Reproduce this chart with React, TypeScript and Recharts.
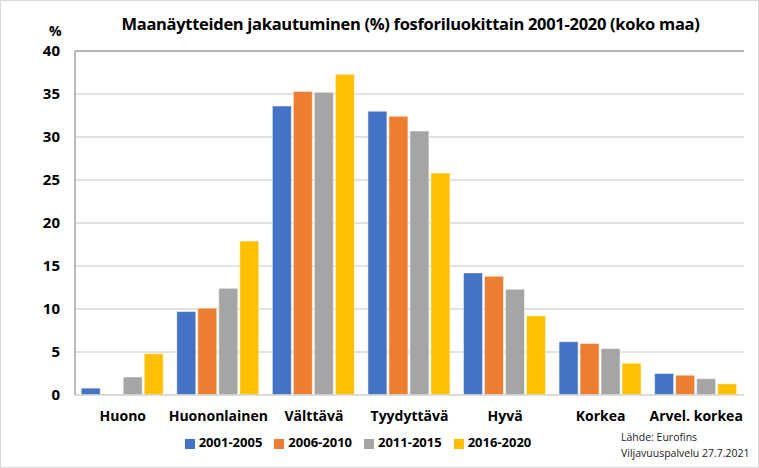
import React from 'react';
import { BarChart, Bar, XAxis, YAxis, CartesianGrid, Legend, ReferenceLine } from 'recharts';

const categories = ['Huono', 'Huononlainen', 'Välttävä', 'Tyydyttävä', 'Hyvä', 'Korkea', 'Arvel. korkea'];
const p2001 = [0.8, 9.7, 33.6, 33.0, 14.2, 6.2, 2.5];
const p2006 = [0, 10.1, 35.3, 32.4, 13.8, 6.0, 2.3];
const p2011 = [2.1, 12.4, 35.2, 30.7, 12.3, 5.4, 1.9];
const p2016 = [4.8, 17.9, 37.3, 25.8, 9.2, 3.7, 1.3];
const yTicks = [0, 5, 10, 15, 20, 25, 30, 35, 40];

const series = [
  { key: 'a', name: '2001-2005', color: '#4472c4', values: p2001 },
  { key: 'b', name: '2006-2010', color: '#ed7d31', values: p2006 },
  { key: 'c', name: '2011-2015', color: '#a5a5a5', values: p2011 },
  { key: 'd', name: '2016-2020', color: '#ffc000', values: p2016 },
];

const data = categories.map((c, i) => {
  const row: any = { name: c };
  series.forEach((s) => (row[s.key] = s.values[i]));
  return row;
});

const font = "'Open Sans', 'Liberation Sans', sans-serif";

const App: React.FC = () => {
  return (
    <div
      style={{
        position: 'absolute',
        left: 0,
        top: 0,
        width: 759,
        height: 468,
        boxSizing: 'border-box',
        border: '1px solid #d9d9d9',
        background: '#fff',
        fontFamily: font,
      }}
    >
      <div style={{ position: 'absolute', left: 30, width: 759, top: 11, textAlign: 'center', fontSize: 16.5, fontWeight: 700, color: '#000', letterSpacing: -0.3 }}>
        Maanäytteiden jakautuminen (%) fosforiluokittain 2001-2020 (koko maa)
      </div>
      <div style={{ position: 'absolute', left: 48, top: 20, fontSize: 14, fontWeight: 700 }}>%</div>
      <div style={{ position: 'absolute', left: 620, top: 428, fontSize: 10.5, lineHeight: '16px', color: '#222' }}>
        Lähde: Eurofins
        <br />
        Viljavuuspalvelu 27.7.2021
      </div>
      <BarChart
        width={757}
        height={466}
        data={data}
        margin={{ top: 50, right: 14, left: 0, bottom: 24 }}
        barCategoryGap="6.5%"
        barGap={2}
      >
        <CartesianGrid vertical={false} stroke="#d9d9d9" strokeWidth={1.5} />
        <XAxis
          dataKey="name"
          tickLine={false}
          axisLine={{ stroke: '#d9d9d9', strokeWidth: 1.5 }}
          tick={{ fontSize: 14, fontWeight: 700, fill: '#000', fontFamily: font }}
          tickMargin={10}
          interval={0}
          height={30}
        />
        <YAxis
          domain={[0, 40]}
          ticks={yTicks}
          width={74}
          tickLine={false}
          axisLine={{ stroke: '#a6a6a6', strokeWidth: 1.5 }}
          tick={{ fontSize: 15, fontWeight: 700, fill: '#000', fontFamily: font }}
          tickMargin={9}
        />
        <YAxis yAxisId="r" orientation="right" domain={[0, 40]} width={0} tick={false} tickLine={false} axisLine={{ stroke: '#a6a6a6', strokeWidth: 1.5 }} />
        <ReferenceLine y={40} stroke="#a6a6a6" strokeWidth={1.5} />
        <Legend
          verticalAlign="bottom"
          iconType="square"
          iconSize={10}
          wrapperStyle={{ left: 138, width: 450, bottom: 16, fontSize: 13, fontWeight: 700, fontFamily: font }}
          formatter={(v: string) => <span style={{ color: '#000', marginRight: 2 }}>{v}</span>}
        />
        {series.map((s) => (
          <Bar key={s.key} dataKey={s.key} name={s.name} fill={s.color} stroke="#ffffff" strokeOpacity={0.5} isAnimationActive={false} />
        ))}
      </BarChart>
    </div>
  );
};

export default App;
